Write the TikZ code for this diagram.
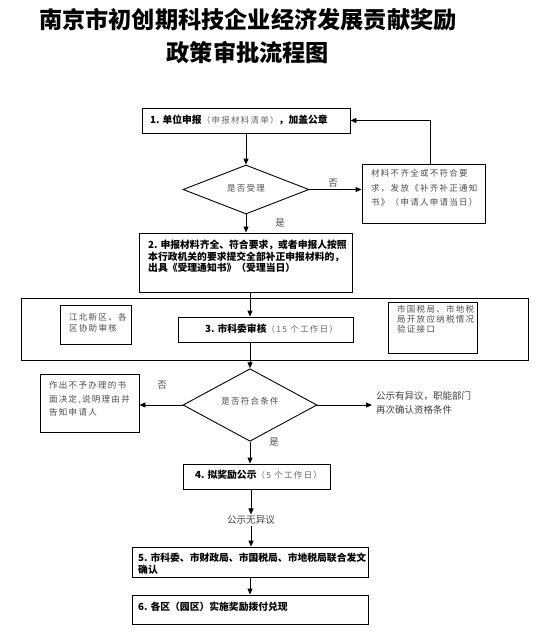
\documentclass[tikz,border=0pt]{standalone}
\usepackage{fontspec}
\setmainfont{Noto Sans CJK SC}
\newfontfamily\spfont{Noto Sans CJK SC}[LetterSpace=15]
\usetikzlibrary{arrows.meta,shapes.geometric,calc}
\tikzset{
  boxs/.style={draw, line width=0.9pt, inner sep=0pt},
  dia/.style={draw, diamond, line width=0.9pt, inner sep=0pt, font=\spfont\fontsize{8.5}{10}\selectfont, text=black!70},
  btxt/.style={font=\fontsize{9.8}{11.6}\selectfont\bfseries, align=left, inner sep=0pt, anchor=base west},
  gtxt/.style={font=\spfont\fontsize{8.5}{#1}\selectfont, text=black!70, align=left, inner sep=0pt, anchor=base west},
  gtxt/.default=12,
  ptxt/.style={font=\fontsize{9.5}{14}\selectfont, text=black!75, align=left, inner sep=0pt},
  arr/.style={-{Triangle[length=6pt,width=5pt]}, line width=0.9pt},
  ln/.style={line width=0.9pt},
  yn/.style={font=\fontsize{9.5}{11}\selectfont, text=black!70, inner sep=0pt}
}
\begin{document}
\begin{tikzpicture}[x=1pt,y=-1pt]
\useasboundingbox (0,0) rectangle (546,643);
% title (base anchor = baseline of the last line)
\node[font=\fontsize{23.2}{33}\selectfont\bfseries, align=center, anchor=base, inner sep=0pt] (title) at (248,61.8)
  {南京市初创期科技企业经济发展贡献奖励\\政策审批流程图};
% box 1
\node[boxs, minimum width=208pt, minimum height=25pt] (b1) at (246,120.5) {};
\node[btxt] (b1t) at (150,123.5) {1. 单位申报{\mdseries\spfont\fontsize{8.5}{10}\selectfont\color{black!60}（申报材料清单）}，加盖公章};
% diamond 1
\node[dia, minimum width=126pt, minimum height=49pt] (d1) at (246,189.5) {\raisebox{3pt}{是否受理}};
% right box 1
\node[boxs, minimum width=123pt, minimum height=59pt] (r1) at (423.5,193.5) {};
\node[gtxt=14.5] (r1t) at (371,205.5) {材料不齐全或不符合要\\求，发放《补齐补正通知\\书》（申请人申请当日）};
\coordinate (fb) at (430,0);
% box 2
\node[boxs, minimum width=213pt, minimum height=59pt] (b2) at (245.5,262.5) {};
\node[btxt] (b2t) at (148,271.7) {2. 申报材料齐全、符合要求，或者申报人按照\\本行政机关的要求提交全部补正申报材料的，\\出具《受理通知书》（受理当日）};
% big frame
\node[boxs, minimum width=507pt, minimum height=62pt] (big) at (274.5,329) {};
\node[boxs, minimum width=71pt, minimum height=39pt] (l3) at (95.5,324.5) {};
\node[gtxt=11] (l3t) at (69,331.5) {江北新区、各\\区协助审核};
\node[boxs, minimum width=175pt, minimum height=25pt] (b3) at (265.5,329.5) {};
\node[btxt] (b3t) at (205,332.5) {3. 市科委审核{\mdseries\spfont\fontsize{8.5}{10}\selectfont\color{black!60}（15 个工作日）}};
\node[boxs, minimum width=89pt, minimum height=51pt] (r3) at (432.5,327.5) {};
\node[gtxt=10] (r3t) at (397,332.5) {市国税局、市地税\\局开放应纳税情况\\验证接口};
% diamond 2
\node[dia, minimum width=134pt, minimum height=68pt] (d2) at (250,405) {\raisebox{8pt}{是否符合条件}};
\node[boxs, minimum width=99pt, minimum height=58pt] (l4) at (89.5,403) {};
\node[gtxt=13.5] (l4t) at (49,415.5) {作出不予办理的书\\面决定,说明理由并\\告知申请人};
\node[ptxt, anchor=base west] (rt) at (376,413.5) {公示有异议，职能部门\\再次确认资格条件};
% box 4
\node[boxs, minimum width=147pt, minimum height=25pt] (b4) at (256.5,476.5) {};
\node[btxt] (b4t) at (195,478.5) {4. 拟奖励公示{\mdseries\spfont\fontsize{8.5}{10}\selectfont\color{black!60}（5 个工作日）}};
\node[ptxt, font=\fontsize{9.6}{11}\selectfont, inner sep=1pt] (pub) at (251,520) {公示无异议};
% box 5, 6
\node[boxs, minimum width=236pt, minimum height=30pt] (b5) at (250,562) {};
\node[btxt] (b5t) at (138,573.1) {5. 市科委、市财政局、市国税局、市地税局联合发文\\确认};
\node[boxs, minimum width=236pt, minimum height=29pt] (b6) at (250,609.5) {};
\node[btxt] (b6t) at (138,610.5) {6. 各区（园区）实施奖励拨付兑现};
% yes / no labels
\node[yn] (no1) at (333,183) {否};
\node[yn] (yes1) at (280,223) {是};
\node[yn] (no2) at (162,385) {否};
\node[yn] (yes2) at (274,442) {是};
% connectors
\draw[arr] (b1.south) -- (d1.north);
\draw[arr] (d1.east) -- (d1.east -| r1.west);
\draw[arr] (r1.north -| fb) |- (b1.east);
\draw[arr] (d1.south) -- (d1.south |- b2.north);
\coordinate (c23) at (250,0);
\draw[arr] (b2.south -| c23) -- (b3.north -| c23);
\draw[arr] (b3.south -| d2.north) -- (d2.north);
\draw[arr] (d2.west) -- (d2.west -| l4.east);
\draw[arr, shorten >=4pt] (d2.east) -- (d2.east -| rt.west);
\draw[arr] (d2.south) -- (d2.south |- b4.north);
\draw[arr] (b4.south -| pub) -- (pub.north);
\draw[arr] (pub.south) -- (b5.north -| pub);
\draw[arr] (b5.south -| d2.south) -- (b6.north -| d2.south);
\end{tikzpicture}
\end{document}
